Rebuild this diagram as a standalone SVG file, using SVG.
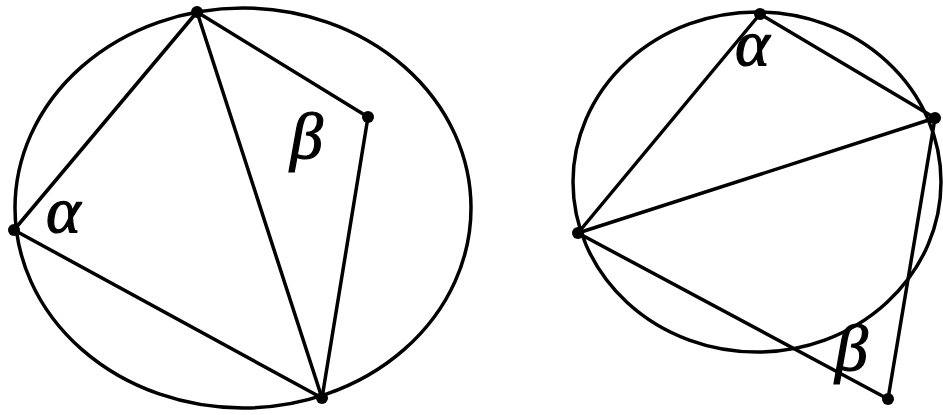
<svg xmlns="http://www.w3.org/2000/svg" width="943" height="415" viewBox="0 0 943 415">
<style>
.c{fill:none;stroke:#000;stroke-width:3.5}
.l{stroke:#000;stroke-width:3.5;stroke-linecap:round}
.d{fill:#000}
.t{font-family:"Liberation Serif","DejaVu Serif",serif;font-style:italic;font-size:66px;fill:#000;stroke:#000;stroke-width:1.2}
</style>
<rect width="943" height="415" fill="#fff"/>
<g id="left-figure">
<ellipse id="circle1" class="c" cx="243" cy="208" rx="228" ry="200"/>
<g id="edges1">
<line class="l" x1="197" y1="12" x2="14" y2="230"/>
<line class="l" x1="14" y1="230" x2="322" y2="398"/>
<line class="l" x1="197" y1="12" x2="322" y2="398"/>
<line class="l" x1="197" y1="12" x2="368" y2="117"/>
<line class="l" x1="368" y1="117" x2="322" y2="398"/>
</g>
<g id="points1">
<circle class="d" cx="197" cy="12" r="6"/>
<circle class="d" cx="14" cy="230" r="6"/>
<circle class="d" cx="322" cy="398" r="6"/>
<circle class="d" cx="368" cy="117" r="6"/>
</g>
<text class="t" x="46" y="232">α</text>
<text class="t" x="290" y="158">β</text>
</g>
<g id="right-figure">
<ellipse id="circle2" class="c" cx="757" cy="182" rx="184" ry="170"/>
<g id="edges2">
<line class="l" x1="760" y1="14" x2="578" y2="233"/>
<line class="l" x1="760" y1="14" x2="935" y2="118"/>
<line class="l" x1="578" y1="233" x2="935" y2="118"/>
<line class="l" x1="578" y1="233" x2="888" y2="399"/>
<line class="l" x1="935" y1="118" x2="888" y2="399"/>
</g>
<g id="points2">
<circle class="d" cx="760" cy="14" r="6"/>
<circle class="d" cx="935" cy="118" r="6"/>
<circle class="d" cx="578" cy="233" r="6"/>
<circle class="d" cx="888" cy="399" r="6"/>
</g>
<text class="t" x="735" y="65">α</text>
<text class="t" x="835" y="370">β</text>
</g>
</svg>
